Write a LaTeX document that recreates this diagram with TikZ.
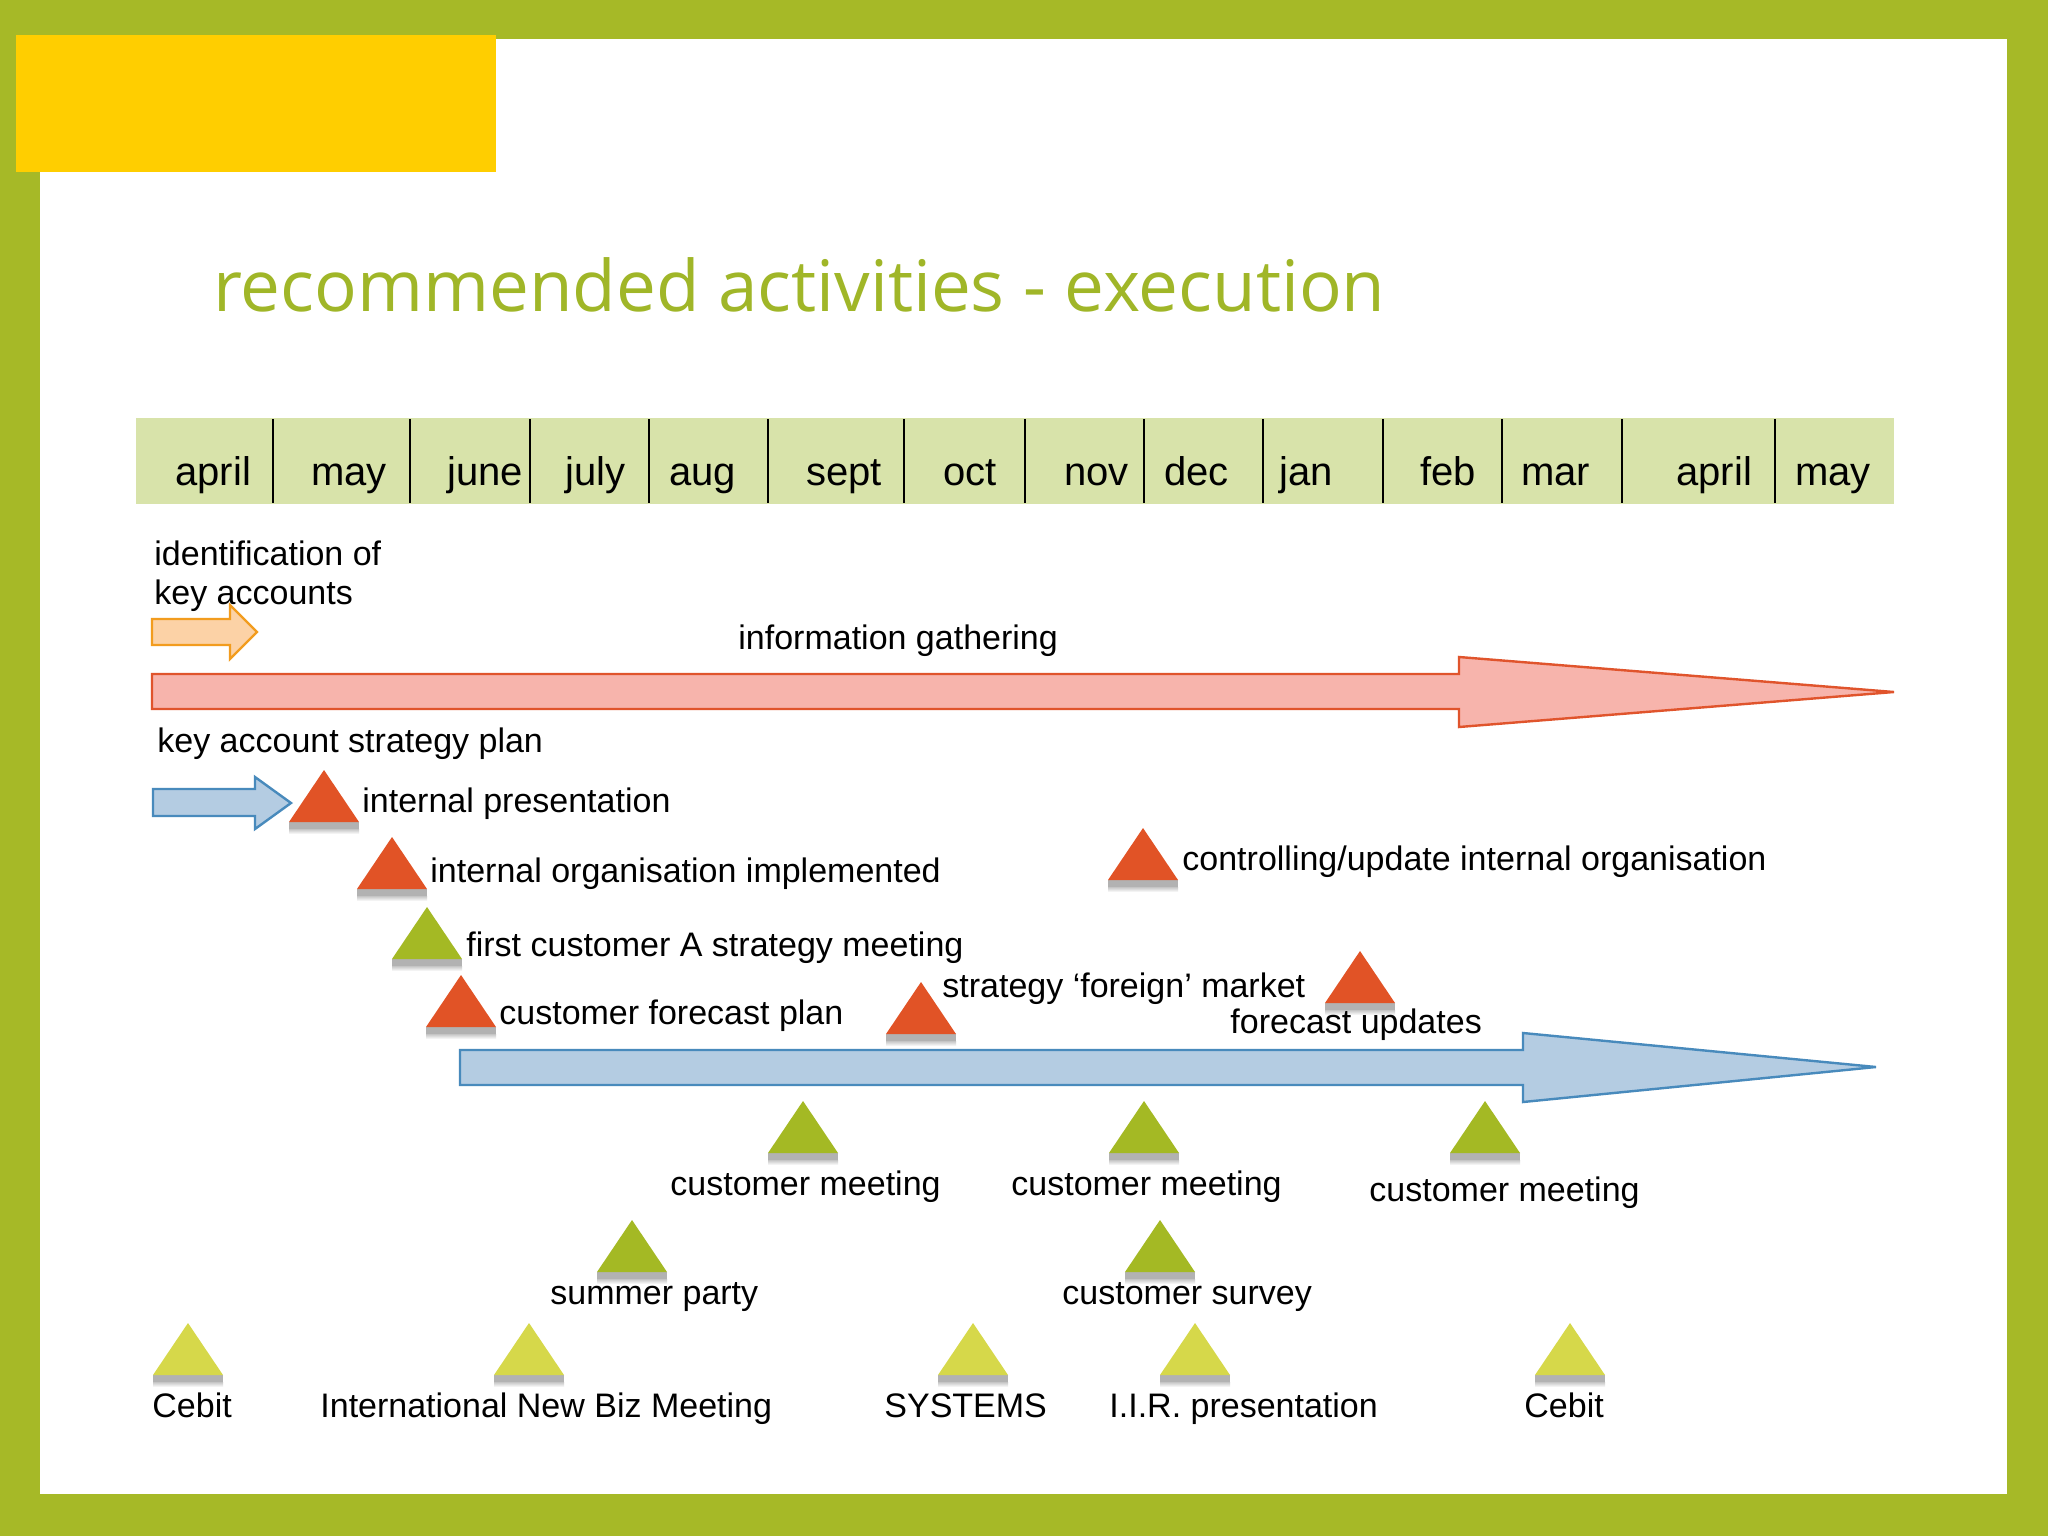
\documentclass[tikz,border=0pt]{standalone}
\usepackage{fontspec}
\setmainfont{Liberation Sans}
\newfontfamily\titlefont{Open Sans}
\definecolor{bordergreen}{RGB}{166,185,39}
\definecolor{titlegreen}{RGB}{160,182,40}
\definecolor{yellowbox}{RGB}{255,206,0}
\definecolor{monthfill}{RGB}{216,227,170}
\definecolor{redtri}{RGB}{225,83,38}
\definecolor{greentri}{RGB}{164,185,36}
\definecolor{yellowtri}{RGB}{214,216,74}
\definecolor{orangefill}{RGB}{252,210,166}
\definecolor{orangeline}{RGB}{242,156,30}
\definecolor{redfill}{RGB}{247,180,172}
\definecolor{redline}{RGB}{224,84,44}
\definecolor{bluefill}{RGB}{180,204,226}
\definecolor{blueline}{RGB}{72,138,188}
\tikzset{
  lbl/.style={anchor=base west, inner sep=0pt, font=\fontsize{17pt}{20pt}\selectfont},
  mlbl/.style={anchor=base west, inner sep=0pt, font=\fontsize{20pt}{24pt}\selectfont},
  blockarrow/.style={line width=1.2pt, line join=miter},
  divider/.style={line width=0.9pt, black},
}
% milestone triangle: colour, apex x, apex y
\newcommand{\mstone}[3]{%
  \fill[gray!60] ({#2-35},{#3+52}) rectangle ({#2+35},{#3+59});
  \shade[top color=gray!45, bottom color=white] ({#2-35},{#3+59}) rectangle ({#2+35},{#3+64});
  \fill[#1] (#2,#3) -- ({#2+35},{#3+52}) -- ({#2-35},{#3+52}) -- cycle;
}
\begin{document}
\begin{tikzpicture}[x=0.5pt,y=-0.5pt]
\useasboundingbox (0,0) rectangle (2048,1536);
% frame
\fill[bordergreen] (0,0) rectangle (2048,1536);
\fill[white] (40,39) rectangle (2007,1494);
\fill[yellowbox] (16,35) rectangle (496,172);
% title
\node[anchor=base west, inner sep=0pt, text=titlegreen, font=\titlefont\fontsize{35.5pt}{40pt}\selectfont] (title) at (213,311) {recommended activities - execution};
% month bar
\fill[monthfill] (136,418) rectangle (1894,504);
\foreach \x in {273,410,530,649,768,904,1025,1144,1263,1383,1502,1622,1775}
  \draw[divider] (\x,419) -- (\x,503);
\node[mlbl] (m1) at (175,485) {april};
\node[mlbl] (m2) at (311,485) {may};
\node[mlbl] (m3) at (447,485) {june};
\node[mlbl] (m4) at (565,485) {july};
\node[mlbl] (m5) at (669,485) {aug};
\node[mlbl] (m6) at (806,485) {sept};
\node[mlbl] (m7) at (943,485) {oct};
\node[mlbl] (m8) at (1064,485) {nov};
\node[mlbl] (m9) at (1164,485) {dec};
\node[mlbl] (m10) at (1279,485) {jan};
\node[mlbl] (m11) at (1420,485) {feb};
\node[mlbl] (m12) at (1521,485) {mar};
\node[mlbl] (m13) at (1676,485) {april};
\node[mlbl] (m14) at (1795,485) {may};
% block arrows
\draw[blockarrow, draw=orangeline, fill=orangefill]
  (152,619) -- (230,619) -- (230,605) -- (257,632) -- (230,659) -- (230,645) -- (152,645) -- cycle;
\draw[blockarrow, draw=redline, fill=redfill]
  (152,674) -- (1459,674) -- (1459,657) -- (1894,692) -- (1459,727) -- (1459,709) -- (152,709) -- cycle;
\draw[blockarrow, draw=blueline, fill=bluefill]
  (153,789) -- (255,789) -- (255,777) -- (291,803) -- (255,829) -- (255,816) -- (153,816) -- cycle;
\draw[blockarrow, draw=blueline, fill=bluefill]
  (460,1050) -- (1523,1050) -- (1523,1033) -- (1876,1067) -- (1523,1102) -- (1523,1085) -- (460,1085) -- cycle;
% milestones
\mstone{redtri}{324}{770}
\mstone{redtri}{392}{837}
\mstone{greentri}{427}{907}
\mstone{redtri}{461}{975}
\mstone{redtri}{921}{982}
\mstone{redtri}{1360}{951}
\mstone{redtri}{1143}{828}
\mstone{greentri}{803}{1101}
\mstone{greentri}{1144}{1101}
\mstone{greentri}{1485}{1101}
\mstone{greentri}{632}{1220}
\mstone{greentri}{1160}{1220}
\mstone{yellowtri}{188}{1323}
\mstone{yellowtri}{529}{1323}
\mstone{yellowtri}{973}{1323}
\mstone{yellowtri}{1195}{1323}
\mstone{yellowtri}{1570}{1323}
% labels
\node[lbl] (id1) at (154,565) {identification of};
\node[lbl] (id2) at (154,604) {key accounts};
\node[lbl] (info) at (738,649) {information gathering};
\node[lbl] (kasp) at (157,752) {key account strategy plan};
\node[lbl] (ip) at (362,812) {internal presentation};
\node[lbl] (ioi) at (430,882) {internal organisation implemented};
\node[lbl] (fcasm) at (466,956) {first customer A strategy meeting};
\node[lbl] (cfp) at (499,1024) {customer forecast plan};
\node[lbl] (sfm) at (942,997) {strategy ‘foreign’ market};
\node[lbl] (fu) at (1230,1033) {forecast updates};
\node[lbl] (cuio) at (1182,870) {controlling/update internal organisation};
\node[lbl] (cm1) at (670,1195) {customer meeting};
\node[lbl] (cm2) at (1011,1195) {customer meeting};
\node[lbl] (cm3) at (1369,1201) {customer meeting};
\node[lbl] (sp) at (550,1304) {summer party};
\node[lbl] (cs) at (1062,1304) {customer survey};
\node[lbl] (cb1) at (152,1417) {Cebit};
\node[lbl] (inbm) at (320,1417) {International New Biz Meeting};
\node[lbl] (sys) at (884,1417) {SYSTEMS};
\node[lbl] (iir) at (1109,1417) {I.I.R. presentation};
\node[lbl] (cb2) at (1524,1417) {Cebit};
\end{tikzpicture}
\end{document}
